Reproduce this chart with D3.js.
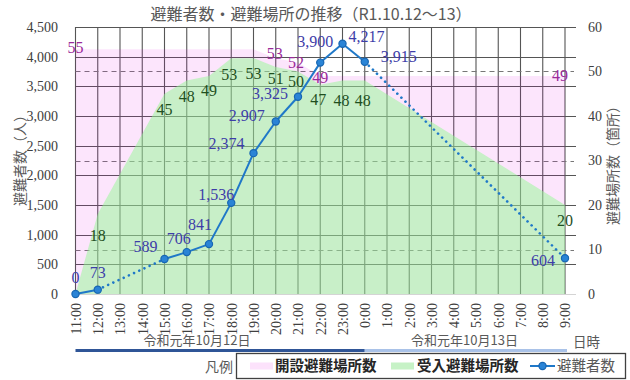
<!DOCTYPE html>
<html>
<head>
<meta charset="utf-8">
<script src="https://cdn.jsdelivr.net/npm/d3@7"></script>
<style>
  html, body { margin: 0; padding: 0; background: #fff; }
  svg { display: block; }
</style>
</head>
<body>
<svg id="chart" width="630" height="380"></svg>
<script>
// Hourly timeline, 12 Oct 11:00 through 13 Oct 9:00
const hours = ["11:00","12:00","13:00","14:00","15:00","16:00","17:00","18:00","19:00","20:00",
  "21:00","22:00","23:00","0:00","1:00","2:00","3:00","4:00","5:00","6:00","7:00","8:00","9:00"];

// Evacuees (people); null = no report for that hour
const evacuees = [0, 73, null, null, 589, 706, 841, 1536, 2374, 2907, 3325, 3900, 4217, 3915,
  null, null, null, null, null, null, null, null, 604];

// Shelters opened
const openedShelters = [55, 55, 55, 55, 55, 55, 55, 55, 55, 53, 52, 49, 49, 49,
  null, null, null, null, null, null, null, null, 49];

// Shelters accepting evacuees
const acceptingShelters = [0, 18, null, null, 45, 48, 49, 53, 53, 51, 50, 47, 48, 48,
  null, null, null, null, null, null, null, null, 20];

const leftTicks = [0, 500, 1000, 1500, 2000, 2500, 3000, 3500, 4000, 4500];
const rightTicks = [0, 10, 20, 30, 40, 50, 60];
const dayLabels = ["令和元年10月12日", "令和元年10月13日"];

// Which points carry a value label, and label offsets from their point
const openedLabelIdx = [0, 9, 10, 11, 22];
const openedLabelOffset = [[0, -2], [-1, -5], [-2, 0], [0, 1], [-5, -1]];
const acceptLabelIdx = [1, 4, 5, 6, 7, 8, 9, 10, 11, 12, 13, 22];
const acceptLabelOffset = [[0, 21], [0, 16], [0, 16], [0, 14], [-2, 16], [0, 15], [0, 11], [-2, 10], [-2, 15], [-1, 20], [-2, 20], [0, 15]];
const evacLabelOffset = {
  0: [0, -17], 1: [0, -17], 4: [-19, -13], 5: [-8, -14], 6: [-9, -20], 7: [-15, -8],
  8: [-27, -10], 9: [-29, -6], 10: [-28, -3], 11: [-5, -21], 12: [24, -7], 13: [34, -5], 22: [-22, 2]
};

const SERIF = "'Liberation Serif', 'Times New Roman', serif";
const SANS = "'Noto Sans CJK JP', 'Noto Sans', sans-serif";

const svg = d3.select("#chart");
const plot = { left: 75.5, right: 565, top: 27, bottom: 294 };

const x = d3.scalePoint().domain(hours).range([plot.left, plot.right]);
const yL = d3.scaleLinear().domain([0, 4500]).range([plot.bottom, plot.top]);
const yR = d3.scaleLinear().domain([0, 60]).range([plot.bottom, plot.top]);

// ---- grid ----
const grid = svg.append("g");
grid.selectAll("line.v").data(hours).join("line")
  .attr("x1", d => x(d)).attr("x2", d => x(d))
  .attr("y1", plot.top).attr("y2", plot.bottom)
  .attr("stroke", "#555").attr("stroke-width", 1.1);
grid.selectAll("line.h").data(leftTicks).join("line")
  .attr("x1", plot.left).attr("x2", plot.right + 11)
  .attr("y1", d => Math.round(yL(d)) + 0.5).attr("y2", d => Math.round(yL(d)) + 0.5)
  .attr("stroke", d => d === 0 ? "#d4d4d4" : "#555").attr("stroke-width", 1.1);
// right-axis lines that do not coincide with left-axis lines are dashed
grid.selectAll("line.d").data(rightTicks.filter(d => d % 20 !== 0)).join("line")
  .attr("x1", plot.left).attr("x2", plot.right + 9)
  .attr("y1", d => Math.round(yR(d)) + 0.5).attr("y2", d => Math.round(yR(d)) + 0.5)
  .attr("stroke", "#777").attr("stroke-width", 1.1).attr("stroke-dasharray", "5,4");

// ---- shelter areas ----
const pts = arr => arr.map((v, i) => ({ h: hours[i], v, i })).filter(d => d.v !== null);
const area = d3.area().x(d => x(d.h)).y0(plot.bottom).y1(d => yR(d.v));

svg.append("path").datum(pts(openedShelters)).attr("d", area)
  .attr("fill", "#e600e6").attr("fill-opacity", 0.1);
svg.append("path").datum(pts(acceptingShelters)).attr("d", area)
  .attr("fill", "rgb(148,250,148)").attr("fill-opacity", 0.5);

// ---- axes ----
const axL = svg.append("g").attr("transform", `translate(${plot.left},0)`)
  .call(d3.axisLeft(yL).tickValues(leftTicks).tickFormat(d3.format(",")).tickSize(0).tickPadding(17.5));
const axR = svg.append("g").attr("transform", `translate(${plot.right},0)`)
  .call(d3.axisRight(yR).tickValues(rightTicks).tickSize(0).tickPadding(23));
const axB = svg.append("g").attr("transform", `translate(0,${plot.bottom})`)
  .call(d3.axisBottom(x).tickSize(0));
[axL, axR, axB].forEach(a => {
  a.select(".domain").remove();
  a.selectAll("text").attr("font-family", SERIF).attr("font-size", 14).attr("fill", "#404040");
});
axB.selectAll("text")
  .attr("transform", "rotate(-90)")
  .attr("text-anchor", "end")
  .attr("x", -9).attr("y", 0).attr("dy", "0.35em");

// ---- labels for shelter counts ----
svg.append("g").selectAll("text").data(openedLabelIdx).join("text")
  .attr("x", (d, k) => x(hours[d]) + openedLabelOffset[k][0])
  .attr("y", (d, k) => yR(openedShelters[d]) + openedLabelOffset[k][1])
  .attr("dy", "0.35em").attr("text-anchor", "middle")
  .attr("font-family", SERIF).attr("font-size", 16).attr("fill", "#9a2a9a")
  .text(d => openedShelters[d]);

svg.append("g").selectAll("text").data(acceptLabelIdx).join("text")
  .attr("x", (d, k) => x(hours[d]) + acceptLabelOffset[k][0])
  .attr("y", (d, k) => yR(acceptingShelters[d]) + acceptLabelOffset[k][1])
  .attr("dy", "0.35em").attr("text-anchor", "middle")
  .attr("font-family", SERIF).attr("font-size", 16).attr("fill", "#1f4f1f")
  .text(d => acceptingShelters[d]);

// ---- evacuee line: solid between consecutive hours, dotted across gaps ----
const ev = pts(evacuees);
const line = d3.line().x(d => x(d.h)).y(d => yL(d.v));
const lineG = svg.append("g");
for (let k = 1; k < ev.length; k++) {
  const a = ev[k - 1], b = ev[k];
  const gap = b.i - a.i > 1;
  lineG.append("path").datum([a, b]).attr("d", line)
    .attr("fill", "none").attr("stroke", "#1f78c8")
    .attr("stroke-width", gap ? 2.6 : 2)
    .attr("stroke-linecap", gap ? "round" : "butt")
    .attr("stroke-dasharray", gap ? "0.1,5.6" : null);
}
lineG.selectAll("circle").data(ev).join("circle")
  .attr("cx", d => x(d.h)).attr("cy", d => yL(d.v)).attr("r", 3.6)
  .attr("fill", "#2a84d6").attr("stroke", "#1766b2").attr("stroke-width", 1.2);

svg.append("g").selectAll("text").data(ev).join("text")
  .attr("x", d => x(d.h) + evacLabelOffset[d.i][0])
  .attr("y", d => yL(d.v) + evacLabelOffset[d.i][1])
  .attr("dy", "0.35em").attr("text-anchor", "middle")
  .attr("font-family", SERIF).attr("font-size", 16).attr("fill", "#3d3da8")
  .text(d => d3.format(",")(d.v));

// ---- titles ----
svg.append("text").attr("x", 311).attr("y", 14.5).attr("dy", "0.35em")
  .attr("text-anchor", "middle").attr("font-family", SANS).attr("font-size", 16).attr("fill", "#595959")
  .text("避難者数・避難場所の推移（R1.10.12～13）");
svg.append("text").attr("transform", "translate(20,157) rotate(-90)").attr("dy", "0.35em")
  .attr("text-anchor", "middle").attr("font-family", SANS).attr("font-size", 14).attr("fill", "#595959")
  .text("避難者数（人）");
svg.append("text").attr("transform", "translate(613,162) rotate(-90)").attr("dy", "0.35em")
  .attr("text-anchor", "middle").attr("font-family", SANS).attr("font-size", 14).attr("fill", "#595959")
  .text("避難場所数（箇所）");

// ---- day grouping under the time axis ----
const midnight = x("0:00");
const days = [
  { label: dayLabels[0], x0: plot.left, x1: midnight, color: "#2f5597" },
  { label: dayLabels[1], x0: midnight, x1: plot.right + 2, color: "#a9c2e8" }
];
const dayG = svg.append("g");
dayG.selectAll("line").data(days).join("line")
  .attr("x1", d => d.x0).attr("x2", d => d.x1).attr("y1", 350.5).attr("y2", 350.5)
  .attr("stroke", d => d.color).attr("stroke-width", 3);
dayG.selectAll("text").data(days).join("text")
  .attr("x", (d, k) => k === 0 ? 197 : 464.5).attr("y", 340).attr("dy", "0.35em")
  .attr("text-anchor", "middle").attr("font-family", SANS).attr("font-size", 13).attr("fill", "#595959")
  .text(d => d.label);
svg.append("text").attr("x", 573).attr("y", 342).attr("dy", "0.35em")
  .attr("font-family", SANS).attr("font-size", 13.5).attr("fill", "#595959").text("日時");

// ---- legend ----
const lg = svg.append("g");
lg.append("text").attr("x", 219).attr("y", 367).attr("dy", "0.35em").attr("text-anchor", "middle")
  .attr("font-family", SANS).attr("font-size", 14).attr("fill", "#595959").text("凡例");
lg.append("rect").attr("x", 236.5).attr("y", 353.5).attr("width", 389).attr("height", 25)
  .attr("fill", "#fff").attr("stroke", "#404040").attr("stroke-width", 1.3);
lg.append("rect").attr("x", 250).attr("y", 362.5).attr("width", 23).attr("height", 7).attr("fill", "#fce2fb");
lg.append("text").attr("x", 275).attr("y", 365.5).attr("dy", "0.35em")
  .attr("font-family", SANS).attr("font-size", 14.5).attr("font-weight", "bold").attr("fill", "#262626")
  .text("開設避難場所数");
lg.append("rect").attr("x", 391).attr("y", 362.5).attr("width", 23).attr("height", 7).attr("fill", "#c6f2c6");
lg.append("text").attr("x", 417).attr("y", 365.5).attr("dy", "0.35em")
  .attr("font-family", SANS).attr("font-size", 14.5).attr("font-weight", "bold").attr("fill", "#262626")
  .text("受入避難場所数");
lg.append("line").attr("x1", 530).attr("x2", 555).attr("y1", 366).attr("y2", 366)
  .attr("stroke", "#1f78c8").attr("stroke-width", 2);
lg.append("circle").attr("cx", 542.5).attr("cy", 366).attr("r", 3.6)
  .attr("fill", "#2a84d6").attr("stroke", "#1766b2").attr("stroke-width", 1.2);
lg.append("text").attr("x", 557).attr("y", 365.5).attr("dy", "0.35em")
  .attr("font-family", SANS).attr("font-size", 14.5).attr("fill", "#595959")
  .text("避難者数");
</script>
</body>
</html>
